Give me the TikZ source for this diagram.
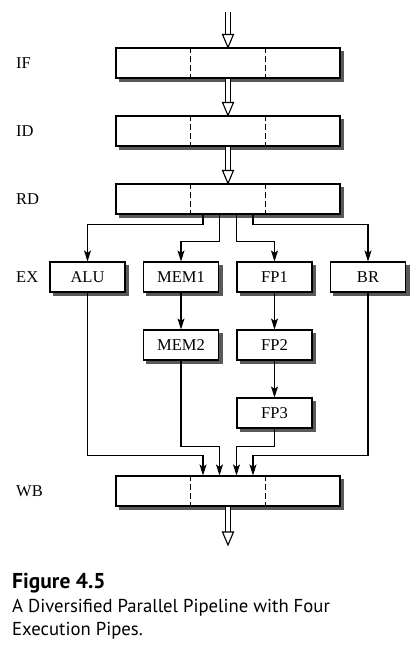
\documentclass[tikz,border=0pt]{standalone}
\usepackage{fontspec}
\setmainfont{Liberation Serif}
\newfontfamily\capfont{PT Sans}
\usetikzlibrary{arrows.meta,backgrounds}
\begin{document}
\begin{tikzpicture}[x=1pt,y=-1pt,
  unit/.style={draw,line width=1.1pt,fill=white,minimum width=75pt,minimum height=30pt,inner sep=0pt,font=\fontsize{16.5}{18}\selectfont},
  stage/.style={draw,line width=1.1pt,fill=white,minimum width=224pt,minimum height=30pt,inner sep=0pt},
  boxshadow/.style={fill=black!65},
  lbl/.style={anchor=base west,inner sep=0pt,font=\fontsize{16.5}{18}\selectfont},
  conn/.style={line width=1.1pt,-{Stealth[length=11pt,width=7pt,inset=2.5pt]}},
  dbl/.style={double,double distance=3.4pt,line width=1.1pt},
  hollow/.style={draw,line width=1.1pt,fill=white,line join=miter},
  divider/.style={line width=1.1pt,dash pattern=on 6pt off 3pt},
  captxt/.style={anchor=base west,inner sep=0pt,font=\capfont\fontsize{18.7}{20}\selectfont}]
\useasboundingbox (0,0) rectangle (417,657);

% pipeline stages
\foreach \n/\y in {IF/63,ID/131,RD/199,WB/491}{
  \node[stage] (\n) at (228,\y) {};
  \draw[divider] ([xshift=-37.3pt]\n.north) -- ([xshift=-37.3pt]\n.south);
  \draw[divider] ([xshift=37.3pt]\n.north) -- ([xshift=37.3pt]\n.south);
}

% stage labels
\node[lbl] (lIF) at (16,68.5) {IF};
\node[lbl] (lID) at (16,136.5) {ID};
\node[lbl] (lRD) at (16,204.5) {RD};
\node[lbl] (lEX) at (16,282.5) {EX};
\node[lbl] (lWB) at (16,496.5) {WB};

% execution units
\node[unit] (ALU) at (87.5,277) {ALU};
\node[unit] (MEM1) at (181,277) {MEM1};
\node[unit] (FP1) at (274.5,277) {FP1};
\node[unit] (BR) at (368,277) {BR};
\node[unit] (MEM2) at (181,345) {MEM2};
\node[unit] (FP2) at (274.5,345) {FP2};
\node[unit] (FP3) at (274.5,413) {FP3};

% drop shadows
\begin{scope}[on background layer]
\foreach \n in {IF,ID,RD,WB,ALU,MEM1,FP1,BR,MEM2,FP2,FP3}{
  \fill[boxshadow] ([shift={(3.5pt,-3.5pt)}]\n.south west) rectangle ([shift={(3.5pt,-3.5pt)}]\n.north east);
}
\end{scope}

% double hollow arrows
\coordinate (intop) at (228,12);
\coordinate (outbot) at (228,545);
\draw[dbl] (intop) -- ([yshift=12pt]IF.north);
\draw[hollow] ([xshift=-5.5pt,yshift=13pt]IF.north) -- ([xshift=5.5pt,yshift=13pt]IF.north) -- (IF.north) -- cycle;
\draw[dbl] (IF.south) -- ([yshift=12pt]ID.north);
\draw[hollow] ([xshift=-5.5pt,yshift=13pt]ID.north) -- ([xshift=5.5pt,yshift=13pt]ID.north) -- (ID.north) -- cycle;
\draw[dbl] (ID.south) -- ([yshift=12pt]RD.north);
\draw[hollow] ([xshift=-5.5pt,yshift=13pt]RD.north) -- ([xshift=5.5pt,yshift=13pt]RD.north) -- (RD.north) -- cycle;
\draw[dbl] (WB.south) -- ([yshift=12pt]outbot);
\draw[hollow] ([xshift=-5.5pt,yshift=13pt]outbot) -- ([xshift=5.5pt,yshift=13pt]outbot) -- (outbot) -- cycle;

% dispatch from RD
\draw[conn] ([xshift=-25pt]RD.south) -- ++(0,10) -| (ALU.north);
\draw[conn] ([xshift=-8.5pt]RD.south) -- ++(0,27) -| (MEM1.north);
\draw[conn] ([xshift=8.5pt]RD.south) -- ++(0,27) -| (FP1.north);
\draw[conn] ([xshift=25pt]RD.south) -- ++(0,10) -| (BR.north);

% internal pipes
\draw[conn] (MEM1) -- (MEM2);
\draw[conn] (FP1) -- (FP2);
\draw[conn] (FP2) -- (FP3);

% writeback
\draw[conn] (ALU.south) |- ([xshift=-25pt,yshift=20pt]WB.north) -- ([xshift=-25pt]WB.north);
\draw[conn] (MEM2.south) |- ([xshift=-8.5pt,yshift=29pt]WB.north) -- ([xshift=-8.5pt]WB.north);
\draw[conn] (FP3.south) |- ([xshift=8.5pt,yshift=29pt]WB.north) -- ([xshift=8.5pt]WB.north);
\draw[conn] (BR.south) |- ([xshift=25pt,yshift=20pt]WB.north) -- ([xshift=25pt]WB.north);

% caption
\node[anchor=base west,inner sep=0pt,font=\capfont\bfseries\fontsize{21.5}{23}\selectfont] (cap1) at (12,588) {Figure 4.5};
\node[captxt] (cap2) at (12,612) {A Diversified Parallel Pipeline with Four};
\node[captxt] (cap3) at (12,635) {Execution Pipes.};
\end{tikzpicture}
\end{document}
